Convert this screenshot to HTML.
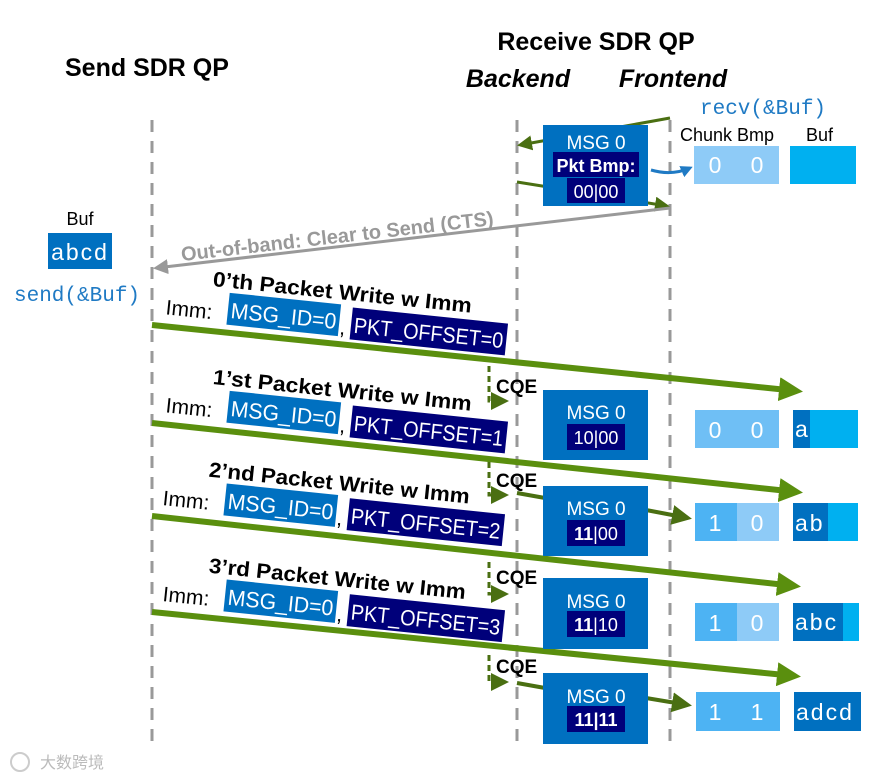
<!DOCTYPE html>
<html><head><meta charset="utf-8"><style>
body{margin:0;background:#fff}
svg{display:block;font-family:"Liberation Sans",sans-serif}
.b{font-weight:bold}
</style></head><body>
<svg width="884" height="778" viewBox="0 0 884 778" xmlns="http://www.w3.org/2000/svg">
<defs>
<marker id="ga" markerWidth="4" markerHeight="4" refX="3" refY="2" orient="auto" markerUnits="strokeWidth"><path d="M0,0 L4,2 L0,4 z" fill="#5a8f0e"/></marker>
<marker id="dg" markerWidth="5" markerHeight="5" refX="4" refY="2.5" orient="auto" markerUnits="strokeWidth"><path d="M0,0 L5,2.5 L0,5 z" fill="#4a6f12"/></marker>
<marker id="gr" markerWidth="5" markerHeight="5" refX="4" refY="2.5" orient="auto" markerUnits="strokeWidth"><path d="M0,0 L5,2.5 L0,5 z" fill="#999"/></marker>
<marker id="bl" markerWidth="4" markerHeight="4" refX="3" refY="2" orient="auto" markerUnits="strokeWidth"><path d="M0,0 L4,2 L0,4 z" fill="#1f7ac4"/></marker>
<marker id="cq" markerWidth="6" markerHeight="6" refX="5" refY="3" orient="auto" markerUnits="strokeWidth"><path d="M0,0 L6,3 L0,6 z" fill="#4a6f12"/></marker>
</defs>

<text x="65" y="76" font-size="25" class="b">Send SDR QP</text>
<text x="596" y="50" font-size="25" class="b" text-anchor="middle">Receive SDR QP</text>
<text x="518" y="87" font-size="25" class="b" font-style="italic" text-anchor="middle">Backend</text>
<text x="673" y="87" font-size="25" class="b" font-style="italic" text-anchor="middle">Frontend</text>
<text x="700" y="114" font-size="21" fill="#1f7ac4" font-family="Liberation Mono,monospace">recv(&amp;Buf)</text>
<text x="680" y="141" font-size="18">Chunk Bmp</text>
<text x="806" y="141" font-size="18">Buf</text>

<g stroke="#999" stroke-width="3" stroke-dasharray="12,9">
<line x1="152" y1="120" x2="152" y2="745"/>
<line x1="517" y1="120" x2="517" y2="745"/>
<line x1="670" y1="120" x2="670" y2="745"/>
</g>

<line x1="670" y1="118" x2="520" y2="145" stroke="#4a6f12" stroke-width="3" marker-end="url(#dg)"/>
<line x1="517" y1="182" x2="667" y2="206" stroke="#4a6f12" stroke-width="3" marker-end="url(#dg)"/>
<rect x="543" y="125" width="105" height="81" fill="#0070c0"/>
<text x="596" y="149" font-size="19" fill="#fff" text-anchor="middle">MSG 0</text>
<rect x="553" y="152" width="86" height="25" fill="#00007a"/>
<text x="596" y="172" font-size="18" fill="#fff" text-anchor="middle" class="b">Pkt Bmp:</text>
<rect x="567" y="178" width="58" height="25" fill="#00007a"/>
<text x="596" y="198" font-size="18" fill="#fff" text-anchor="middle">00|00</text>
<path d="M651,170 Q672,176 690,168" stroke="#1f7ac4" stroke-width="3" fill="none" marker-end="url(#bl)"/>
<rect x="694" y="146" width="85" height="38" fill="#8ecbf7"/>
<text x="715" y="173" font-size="23" fill="#fff" text-anchor="middle">0</text>
<text x="757" y="173" font-size="23" fill="#fff" text-anchor="middle">0</text>
<rect x="790" y="146" width="66" height="38" fill="#00b0f0"/>

<line x1="670" y1="208" x2="156" y2="268" stroke="#999" stroke-width="3" marker-end="url(#gr)"/>
<text x="338" y="243" font-size="20" fill="#999" class="b" text-anchor="middle" transform="rotate(-6.6 338 243)">Out-of-band: Clear to Send (CTS)</text>

<text x="80" y="225" font-size="18" text-anchor="middle">Buf</text>
<rect x="48" y="233" width="64" height="36" fill="#0070c0"/>
<text x="80" y="260" font-size="23" fill="#fff" text-anchor="middle" letter-spacing="2">abcd</text>
<text x="14" y="301" font-size="21" fill="#1f7ac4" font-family="Liberation Mono,monospace">send(&amp;Buf)</text>

<g>
<line x1="152" y1="325" x2="797" y2="391" stroke="#5a8f0e" stroke-width="6" marker-end="url(#ga)"/>
<line x1="152" y1="423" x2="797" y2="492" stroke="#5a8f0e" stroke-width="6" marker-end="url(#ga)"/>
<line x1="152" y1="516" x2="795" y2="586" stroke="#5a8f0e" stroke-width="6" marker-end="url(#ga)"/>
<line x1="152" y1="612" x2="795" y2="676" stroke="#5a8f0e" stroke-width="6" marker-end="url(#ga)"/>
</g>

<g transform="translate(152,325) rotate(5.9)">
<text x="56" y="-45" font-size="21" class="b" textLength="260" lengthAdjust="spacingAndGlyphs">0’th Packet Write w Imm</text>
<text x="12" y="-12" font-size="21">Imm:</text>
<rect x="74" y="-40" width="112" height="32" fill="#0070c0"/>
<text x="77" y="-15" font-size="22" fill="#fff" textLength="106" lengthAdjust="spacingAndGlyphs">MSG_ID=0</text>
<text x="187" y="-10" font-size="21">,</text>
<rect x="198" y="-38" width="156" height="32" fill="#00007a"/>
<text x="201" y="-13" font-size="22" fill="#fff" textLength="150" lengthAdjust="spacingAndGlyphs">PKT_OFFSET=0</text>
</g>
<g transform="translate(152,423) rotate(5.9)">
<text x="56" y="-45" font-size="21" class="b" textLength="260" lengthAdjust="spacingAndGlyphs">1’st Packet Write w Imm</text>
<text x="12" y="-12" font-size="21">Imm:</text>
<rect x="74" y="-40" width="112" height="32" fill="#0070c0"/>
<text x="77" y="-15" font-size="22" fill="#fff" textLength="106" lengthAdjust="spacingAndGlyphs">MSG_ID=0</text>
<text x="187" y="-10" font-size="21">,</text>
<rect x="198" y="-38" width="156" height="32" fill="#00007a"/>
<text x="201" y="-13" font-size="22" fill="#fff" textLength="150" lengthAdjust="spacingAndGlyphs">PKT_OFFSET=1</text>
</g>
<g transform="translate(152,516) rotate(5.9)">
<text x="52" y="-45" font-size="21" class="b" textLength="262" lengthAdjust="spacingAndGlyphs">2’nd Packet Write w Imm</text>
<text x="9" y="-12" font-size="21">Imm:</text>
<rect x="71" y="-40" width="112" height="32" fill="#0070c0"/>
<text x="74" y="-15" font-size="22" fill="#fff" textLength="106" lengthAdjust="spacingAndGlyphs">MSG_ID=0</text>
<text x="184" y="-10" font-size="21">,</text>
<rect x="195" y="-38" width="156" height="32" fill="#00007a"/>
<text x="198" y="-13" font-size="22" fill="#fff" textLength="150" lengthAdjust="spacingAndGlyphs">PKT_OFFSET=2</text>
</g>
<g transform="translate(152,612) rotate(5.9)">
<text x="52" y="-45" font-size="21" class="b" textLength="258" lengthAdjust="spacingAndGlyphs">3’rd Packet Write w Imm</text>
<text x="9" y="-12" font-size="21">Imm:</text>
<rect x="71" y="-40" width="112" height="32" fill="#0070c0"/>
<text x="74" y="-15" font-size="22" fill="#fff" textLength="106" lengthAdjust="spacingAndGlyphs">MSG_ID=0</text>
<text x="184" y="-10" font-size="21">,</text>
<rect x="195" y="-38" width="156" height="32" fill="#00007a"/>
<text x="198" y="-13" font-size="22" fill="#fff" textLength="150" lengthAdjust="spacingAndGlyphs">PKT_OFFSET=3</text>
</g>

<g stroke="#4a6f12" stroke-width="3" stroke-dasharray="6,4" fill="none">
<path d="M489,366 V401 H506" marker-end="url(#cq)"/>
<path d="M489,462 V495 H506" marker-end="url(#cq)"/>
<path d="M489,562 V594 H506" marker-end="url(#cq)"/>
<path d="M489,655 V682 H506" marker-end="url(#cq)"/>
</g>
<g font-size="19" class="b">
<text x="496" y="393">CQE</text>
<text x="496" y="487">CQE</text>
<text x="496" y="584">CQE</text>
<text x="496" y="673">CQE</text>
</g>

<line x1="517" y1="493" x2="545" y2="498" stroke="#4a6f12" stroke-width="4"/>
<line x1="646" y1="510" x2="688" y2="518" stroke="#4a6f12" stroke-width="4" marker-end="url(#dg)"/>
<line x1="517" y1="683" x2="545" y2="688" stroke="#4a6f12" stroke-width="4"/>
<line x1="646" y1="698" x2="688" y2="705" stroke="#4a6f12" stroke-width="4" marker-end="url(#dg)"/>

<g>
<rect x="543" y="390" width="105" height="70" fill="#0070c0"/>
<text x="596" y="419" font-size="19" fill="#fff" text-anchor="middle">MSG 0</text>
<rect x="567" y="424" width="58" height="26" fill="#00007a"/>
<text x="596" y="444" font-size="18" fill="#fff" text-anchor="middle">10|00</text>

<rect x="543" y="486" width="105" height="70" fill="#0070c0"/>
<text x="596" y="515" font-size="19" fill="#fff" text-anchor="middle">MSG 0</text>
<rect x="567" y="520" width="58" height="26" fill="#00007a"/>
<text x="596" y="540" font-size="18" fill="#fff" text-anchor="middle"><tspan font-weight="bold">11</tspan>|00</text>

<rect x="543" y="578" width="105" height="71" fill="#0070c0"/>
<text x="596" y="608" font-size="19" fill="#fff" text-anchor="middle">MSG 0</text>
<rect x="567" y="611" width="58" height="26" fill="#00007a"/>
<text x="596" y="631" font-size="18" fill="#fff" text-anchor="middle"><tspan font-weight="bold">11</tspan>|10</text>

<rect x="543" y="673" width="105" height="71" fill="#0070c0"/>
<text x="596" y="703" font-size="19" fill="#fff" text-anchor="middle">MSG 0</text>
<rect x="567" y="706" width="58" height="26" fill="#00007a"/>
<text x="596" y="726" font-size="18" fill="#fff" text-anchor="middle" font-weight="bold">11|11</text>
</g>

<g font-size="23" fill="#fff" text-anchor="middle">
<rect x="695" y="410" width="84" height="38" fill="#6fbff5"/>
<text x="715" y="438">0</text><text x="757" y="438">0</text>
<rect x="695" y="503" width="42" height="38" fill="#4db3f3"/><rect x="737" y="503" width="42" height="38" fill="#8ecbf7"/>
<text x="715" y="531">1</text><text x="757" y="531">0</text>
<rect x="695" y="603" width="42" height="38" fill="#4db3f3"/><rect x="737" y="603" width="42" height="38" fill="#8ecbf7"/>
<text x="715" y="631">1</text><text x="757" y="631">0</text>
<rect x="696" y="692" width="84" height="39" fill="#4db3f3"/>
<text x="715" y="720">1</text><text x="757" y="720">1</text>
</g>

<g font-size="23" fill="#fff">
<rect x="793" y="410" width="65" height="38" fill="#00b0f0"/><rect x="793" y="410" width="17" height="38" fill="#0070c0"/>
<text x="795" y="437">a</text>
<rect x="793" y="503" width="65" height="38" fill="#00b0f0"/><rect x="793" y="503" width="35" height="38" fill="#0070c0"/>
<text x="795" y="531" letter-spacing="2">ab</text>
<rect x="793" y="603" width="66" height="38" fill="#00b0f0"/><rect x="793" y="603" width="50" height="38" fill="#0070c0"/>
<text x="795" y="630" letter-spacing="2">abc</text>
<rect x="794" y="692" width="67" height="39" fill="#0070c0"/>
<text x="796" y="720" letter-spacing="2">adcd</text>
</g>

<text x="40" y="768" font-size="16" fill="#bbb" font-family="Liberation Sans,'Noto Sans CJK SC',sans-serif">大数跨境</text>
<circle cx="20" cy="762" r="9" fill="none" stroke="#ccc" stroke-width="2"/>
</svg>
</body></html>
